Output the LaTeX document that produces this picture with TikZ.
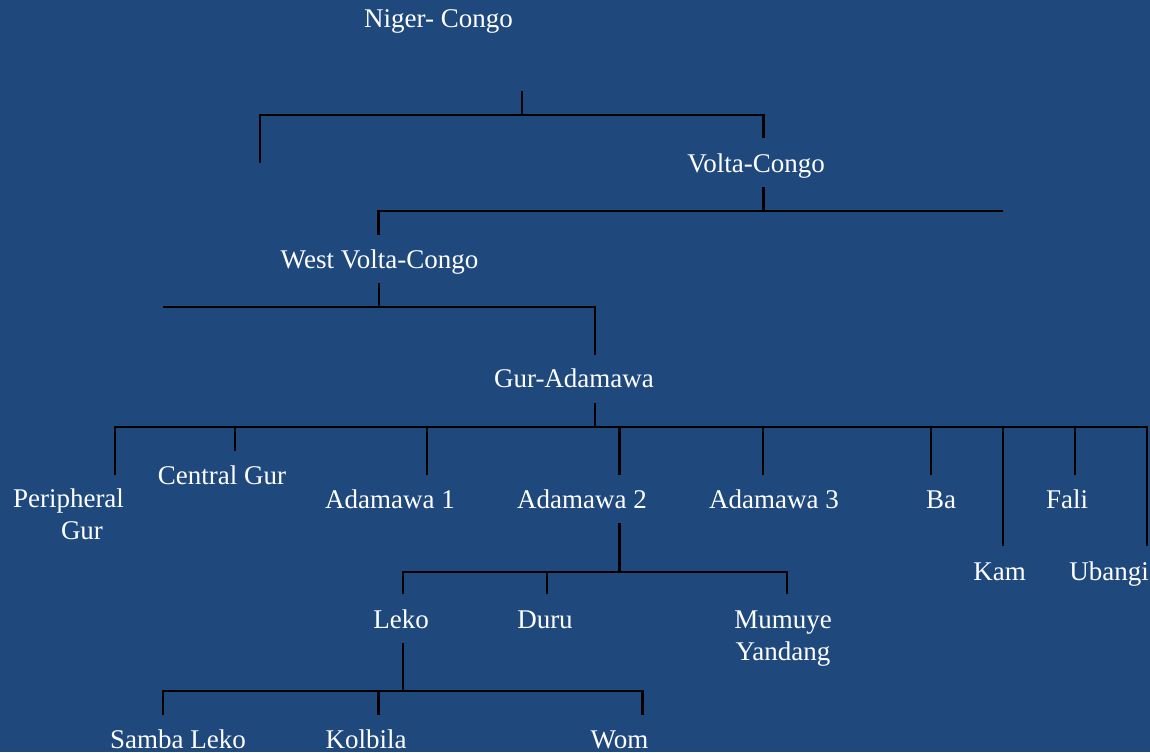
\documentclass[tikz,border=0pt]{standalone}
\usepackage{fontspec}
\setmainfont{Liberation Serif}
\usetikzlibrary{positioning}
\definecolor{slideblue}{RGB}{31,73,125}
\tikzset{
		lang/.style={text=white, font=\fontsize{27}{31.5}\selectfont, inner sep=0pt, anchor=base, align=center},
		branch/.style={draw=black, line width=2.2pt}
	}

\begin{document}
\begin{tikzpicture}[x=1pt, y=-1pt]
		\fill[slideblue] (0,0) rectangle (1150,752);
		% language names (two-line names sit on the base of their last line)
		\node[lang] (nigercongo) at (438.5,28) {Niger- Congo};
		\node[lang] (voltacongo) at (756,172) {Volta-Congo};
		\node[lang] (westvc) at (379.5,268) {West Volta-Congo};
		\node[lang] (guradamawa) at (574,387) {Gur-Adamawa};
		\node[lang] (peripheral) at (68.5,539) {Peripheral\\\hspace*{1em}Gur}; \node[lang] (centralgur) at (222,484) {Central Gur};
		\node[lang] (adamawa1) at (390,508) {Adamawa 1}; \node[lang] (adamawa2) at (582,508) {Adamawa 2}; \node[lang] (adamawa3) at (774,508) {Adamawa 3};
		\node[lang] (ba) at (941,508) {Ba}; \node[lang] (fali) at (1067,508) {Fali};
		\node[lang] (kam) at (999.5,580) {Kam}; \node[lang] (ubangi) at (1109,580) {Ubangi};
		\node[lang] (leko) at (401,628) {Leko}; \node[lang] (duru) at (545,628) {Duru}; \node[lang] (mumuye) at (783,660) {Mumuye\\Yandang};
		\node[lang] (sambaleko) at (178,748) {Samba Leko}; \node[lang] (kolbila) at (366,748) {Kolbila}; \node[lang] (wom) at (619.5,748) {Wom};
		% Niger-Congo
		\coordinate (nc-stem) at (522,91); \coordinate (nc-bus) at (522,115);
		\coordinate (nc-left) at (259.6,162.7); \coordinate (nc-right) at (763.5,138.3);
		\draw[branch] (nc-stem) -- (nc-bus);
		\draw[branch] (nc-left) |- (nc-right |- nc-bus) -- (nc-right);
		% Volta-Congo
		\coordinate (vc-stem) at (763.5,187); \coordinate (vc-bus) at (763.5,210.7);
		\coordinate (vc-left) at (378.4,235); \coordinate (vc-end) at (1002.6,210.7);
		\draw[branch] (vc-stem) -- (vc-bus);
		\draw[branch] (vc-left) |- (vc-end);
		% West Volta-Congo
		\coordinate (wvc-stem) at (379,283.3); \coordinate (wvc-bus) at (379,306.7);
		\coordinate (wvc-end) at (163,306.7); \coordinate (wvc-right) at (595,355);
		\draw[branch] (wvc-stem) -- (wvc-bus);
		\draw[branch] (wvc-end) -| (wvc-right);
		% Gur-Adamawa
		\coordinate (ga-stem) at (595,403); \coordinate (ga-bus) at (595,427);
		\coordinate (ga-peri) at (115,475); \coordinate (ga-cgur) at (234.7,451); \coordinate (ga-ada1) at (427,475);
		\coordinate (ga-ada2) at (619.5,475); \coordinate (ga-ada3) at (763,475); \coordinate (ga-ba) at (931,475);
		\coordinate (ga-kam) at (1003,546); \coordinate (ga-fali) at (1075,475); \coordinate (ga-ubangi) at (1147,546);
		\draw[branch] (ga-stem) -- (ga-bus);
		\draw[branch] (ga-peri) |- (ga-ubangi |- ga-bus) -- (ga-ubangi);
		\foreach \d in {cgur,ada1,ada2,ada3,ba,kam,fali}
			\draw[branch] (ga-\d) -- (ga-\d |- ga-bus);
		% Adamawa 2
		\coordinate (ad2-stem) at (619.5,523); \coordinate (ad2-bus) at (619.5,572);
		\coordinate (ad2-leko) at (402.7,594); \coordinate (ad2-duru) at (547,594); \coordinate (ad2-mumuye) at (787,594);
		\draw[branch] (ad2-stem) -- (ad2-bus);
		\draw[branch] (ad2-leko) |- (ad2-mumuye |- ad2-bus) -- (ad2-mumuye);
		\draw[branch] (ad2-duru) -- (ad2-duru |- ad2-bus);
		% Leko
		\coordinate (lk-stem) at (402.7,643); \coordinate (lk-bus) at (402.7,690.7);
		\coordinate (lk-samba) at (163,715); \coordinate (lk-kolbila) at (378.5,715); \coordinate (lk-wom) at (642.5,715);
		\draw[branch] (lk-stem) -- (lk-bus);
		\draw[branch] (lk-samba) |- (lk-wom |- lk-bus) -- (lk-wom);
		\draw[branch] (lk-kolbila) -- (lk-kolbila |- lk-bus);
	\end{tikzpicture}
\end{document}
